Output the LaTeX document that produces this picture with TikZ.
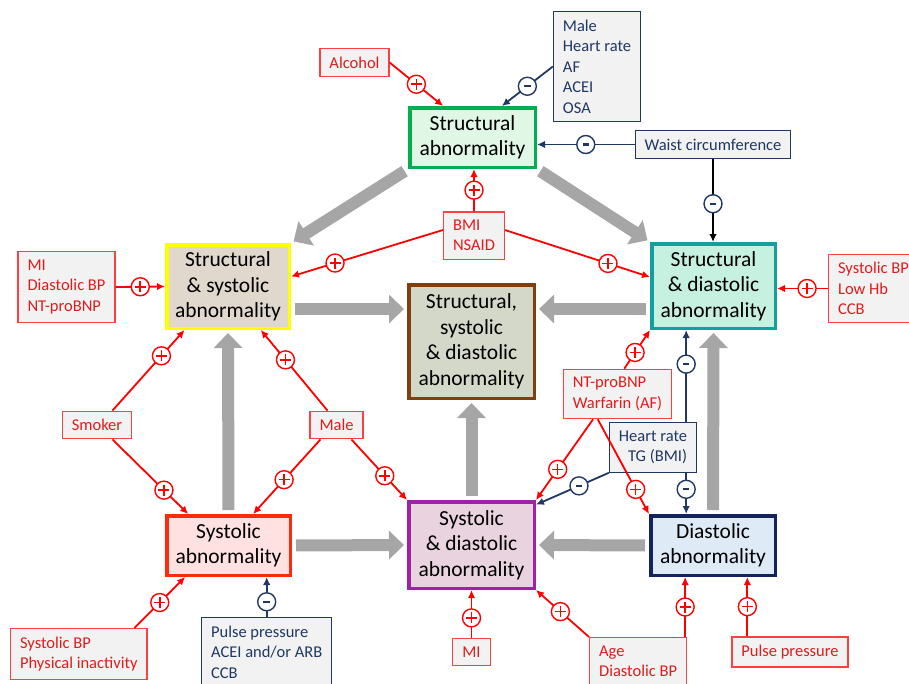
\documentclass[tikz,border=0pt]{standalone}
\usepackage{fontspec}
\setmainfont{Carlito}
\usepackage{tikz}
\usetikzlibrary{arrows.meta, calc}
\definecolor{strgreen}{HTML}{00B050}
\definecolor{strgreenbg}{HTML}{E0F7E5}
\definecolor{ssyellow}{HTML}{FFFF00}
\definecolor{ssbg}{HTML}{E0D7CD}
\definecolor{sdteal}{HTML}{12A09C}
\definecolor{sdbg}{HTML}{C6F0E0}
\definecolor{allbrown}{HTML}{7F3F10}
\definecolor{allbg}{HTML}{D4D8C8}
\definecolor{sysred}{HTML}{FF2A0A}
\definecolor{sysbg}{HTML}{FFE1E1}
\definecolor{sdpurple}{HTML}{A020A8}
\definecolor{sdpbg}{HTML}{E8D3DE}
\definecolor{dianavy}{HTML}{13235B}
\definecolor{diabg}{HTML}{DEEBF7}
\definecolor{factfill}{HTML}{F2F2F2}
\definecolor{posred}{HTML}{FF0000}
\definecolor{factred}{HTML}{E01B1B}
\definecolor{negnavy}{HTML}{1F3864}
\definecolor{biggrey}{HTML}{A6A6A6}
\tikzset{
  % Abnormality boxes
  mainbox/.style={
    rectangle, draw=#1, line width=3.5pt, text=black,
    font=\fontsize{21.5}{25.5}\selectfont, align=center, inner sep=2pt,
  },
  mainbox/.default={black},
  % Factor boxes
  posfactor/.style={
    rectangle, draw=posred!75, fill=factfill, text=factred,
    font=\fontsize{16.5}{20.5}\selectfont, align=left,
    line width=1.2pt, inner xsep=9.5pt, inner ysep=8pt,
  },
  negfactor/.style={
    rectangle, draw=negnavy, fill=factfill, text=negnavy,
    font=\fontsize{16.5}{20.5}\selectfont, align=left,
    line width=1.2pt, inner xsep=9.5pt, inner ysep=8pt,
  },
  % Signs on the links
  possign/.style={
    circle, draw=posred, fill=white, line width=1.4pt,
    minimum size=18pt, inner sep=0pt,
    path picture={
      \draw[-, posred, line width=1.6pt]
        ([xshift=-5.5pt]path picture bounding box.center) -- ([xshift=5.5pt]path picture bounding box.center)
        ([yshift=-5.5pt]path picture bounding box.center) -- ([yshift=5.5pt]path picture bounding box.center);
    },
  },
  negsign/.style={
    circle, draw=negnavy, fill=white, line width=1.4pt,
    minimum size=18pt, inner sep=0pt,
    path picture={
      \draw[-, negnavy, line width=2.4pt]
        ([xshift=-3.2pt]path picture bounding box.center) -- ([xshift=3.2pt]path picture bounding box.center);
    },
  },
  % Arrows
  posarrow/.style={-{Latex[length=8pt, width=7.5pt]}, line width=1.8pt, draw=posred},
  negarrow/.style={-{Latex[length=8pt, width=7.5pt]}, line width=1.8pt, draw=#1},
  negarrow/.default={negnavy},
  bigarrow/.style={
    -{Triangle[length=15pt, width=28pt]}, line width=12pt, draw=biggrey,
    shorten <=4pt, shorten >=3pt,
  },
}

\begin{document}
\begin{tikzpicture}[x=1pt, y=-1pt]
  \useasboundingbox (0,0) rectangle (909,683);

  % Abnormality boxes
  \node[mainbox=strgreen, fill=strgreenbg, minimum width=125.5pt, minimum height=59.5pt]
    (struct) at (472.5,137.5) {Structural\\abnormality};
  \node[mainbox=ssyellow, fill=ssbg, minimum width=122.5pt, minimum height=83.5pt]
    (structsys) at (228,286.5) {Structural\\\& systolic\\abnormality};
  \node[mainbox=sdteal, fill=sdbg, minimum width=123.5pt, minimum height=84.5pt]
    (structdia) at (713.5,286) {Structural\\\& diastolic\\abnormality};
  \node[mainbox=allbrown, fill=allbg, minimum width=125.5pt, minimum height=113.5pt]
    (all) at (471.5,341.5) {Structural,\\systolic\\\& diastolic\\abnormality};
  \node[mainbox=sysred, fill=sysbg, minimum width=123.5pt, minimum height=59.5pt]
    (sys) at (228.5,545.5) {Systolic\\abnormality};
  \node[mainbox=sdpurple, fill=sdpbg, minimum width=125.5pt, minimum height=86.5pt]
    (sysdia) at (471.5,545) {Systolic\\\& diastolic\\abnormality};
  \node[mainbox=dianavy, fill=diabg, minimum width=124.5pt, minimum height=59.5pt]
    (dia) at (713,545.5) {Diastolic\\abnormality};

  % Factor boxes
  \node[posfactor] (alcohol) at (354.5,62.5) {Alcohol};
  \node[negfactor] (malehr) at (597,66.5) {Male\\Heart rate\\AF\\ACEI\\OSA};
  \node[negfactor] (waist) at (713,144.5) {Waist circumference};
  \node[posfactor] (bmi) at (474,235.5) {BMI\\NSAID};
  \node[posfactor] (mibox) at (66.5,287) {MI\\Diastolic BP\\NT-proBNP};
  \node[posfactor, anchor=west] (sbpbox) at (828,288.5) {Systolic BP\\Low Hb\\CCB};
  \node[posfactor] (smoker) at (97,425) {Smoker};
  \node[posfactor] (male) at (336.5,425) {Male};
  \node[posfactor] (ntwarf) at (617.5,394) {NT-proBNP\\Warfarin (AF)};
  \node[negfactor, align=right] (hrtg) at (653,447.5) {Heart rate\\TG (BMI)};
  \node[posfactor, anchor=north west] (sbppi) at (10,628) {Systolic BP\\Physical inactivity};
  \node[negfactor, anchor=north west] (ppnavy) at (201,617) {Pulse pressure\\ACEI and/or ARB\\CCB};
  \node[posfactor] (mibot) at (471.5,652) {MI};
  \node[posfactor, anchor=north west] (agebox) at (589,637) {Age\\Diastolic BP};
  \node[posfactor] (ppred) at (790,652) {Pulse pressure};

  % Progression arrows
  \draw[bigarrow] (struct.south west) -- (structsys.north east);
  \draw[bigarrow] (struct.south east) -- (structdia.north west);
  \coordinate (ssright) at ($(structsys.east)+(0,22.5)$);
  \coordinate (sdleft) at ($(structdia.west)+(0,23)$);
  \draw[bigarrow] (ssright) -- (ssright -| all.west);
  \draw[bigarrow] (sdleft) -- (sdleft -| all.east);
  \draw[bigarrow] (sys.north) -- (structsys.south);
  \draw[bigarrow] (sys.east) -- (sysdia.west);
  \draw[bigarrow] (dia.west) -- (sysdia.east);
  \draw[bigarrow] (sysdia.north) -- (all.south);
  \draw[bigarrow] (dia.north) -- (structdia.south);

  % Positive links
  \draw[posarrow] (alcohol.east) -- (struct.133) node[possign, midway] {};
  \draw[posarrow] (bmi.north) -- (bmi.north |- struct.south) node[possign, midway] {};
  \draw[posarrow] (bmi.170) -- (structsys.9) node[possign, pos=0.71] {};
  \draw[posarrow] (bmi.10) -- (structdia.172) node[possign, pos=0.71] {};
  \draw[posarrow] (mibox.east) -- (structsys.west) node[possign, midway] {};
  \draw[posarrow] (sbpbox.west) -- (sbpbox.west -| structdia.east) node[possign, pos=0.41] {};
  \draw[posarrow] (smoker.43) -- (structsys.-135) node[possign, pos=0.68] {};
  \draw[posarrow] (smoker.-43) -- (sys.142) node[possign, pos=0.68] {};
  \draw[posarrow] (male.122) -- (structsys.-53) node[possign, pos=0.63] {};
  \draw[posarrow] (male.-138) -- (sys.52) node[possign, pos=0.54] {};
  \draw[posarrow] (male.-44) -- (sysdia.north west) node[possign, pos=0.6] {};
  \draw[posarrow] (ntwarf.75) -- (structdia.south west) node[possign, pos=0.42] {};
  \draw[posarrow] (ntwarf.-134) -- (sysdia.north east) node[possign, pos=0.62] {};
  \draw[posarrow] (ntwarf.-128) -- (dia.north west) node[possign, pos=0.74] {};
  \draw[posarrow] (sbppi.25) -- (sys.-144) node[possign, midway] {};
  \draw[posarrow] (mibot.north) -- (mibot.north |- sysdia.south) node[possign, pos=0.42] {};
  \draw[posarrow] (agebox.north west) -- (sysdia.south east) node[possign, pos=0.54] {};
  \coordinate (agetop) at ($(agebox.north east)+(-2,0)$);
  \draw[posarrow] (agetop) -- (agetop |- dia.south) node[possign, midway] {};
  \coordinate (pptop) at ($(ppred.north west)+(16,0)$);
  \draw[posarrow] (pptop) -- (pptop |- dia.south) node[possign, midway] {};

  % Negative links
  \draw[negarrow] (malehr.west) -- (struct.47) node[negsign, midway] {};
  \draw[negarrow] (waist.west) -- (waist.west -| struct.east) node[negsign, midway] {};
  \draw[negarrow=black] (waist.south) -- (waist.south |- structdia.north) node[negsign, pos=0.54] {};
  \coordinate (hrtgtop) at ($(hrtg.north east)+(-11,0)$);
  \coordinate (hrtgbot) at ($(hrtg.south east)+(-11,0)$);
  \draw[negarrow] (hrtgtop) -- (hrtgtop |- structdia.south) node[negsign, pos=0.63] {};
  \draw[negarrow] (hrtgbot) -- (hrtgbot |- dia.north) node[negsign, pos=0.4] {};
  \draw[negarrow] (hrtg.south west) -- (sysdia.32) node[negsign, pos=0.41] {};
  \draw[negarrow] (ppnavy.north) -- (ppnavy.north |- sys.south) node[negsign, pos=0.38] {};

\end{tikzpicture}
\end{document}
